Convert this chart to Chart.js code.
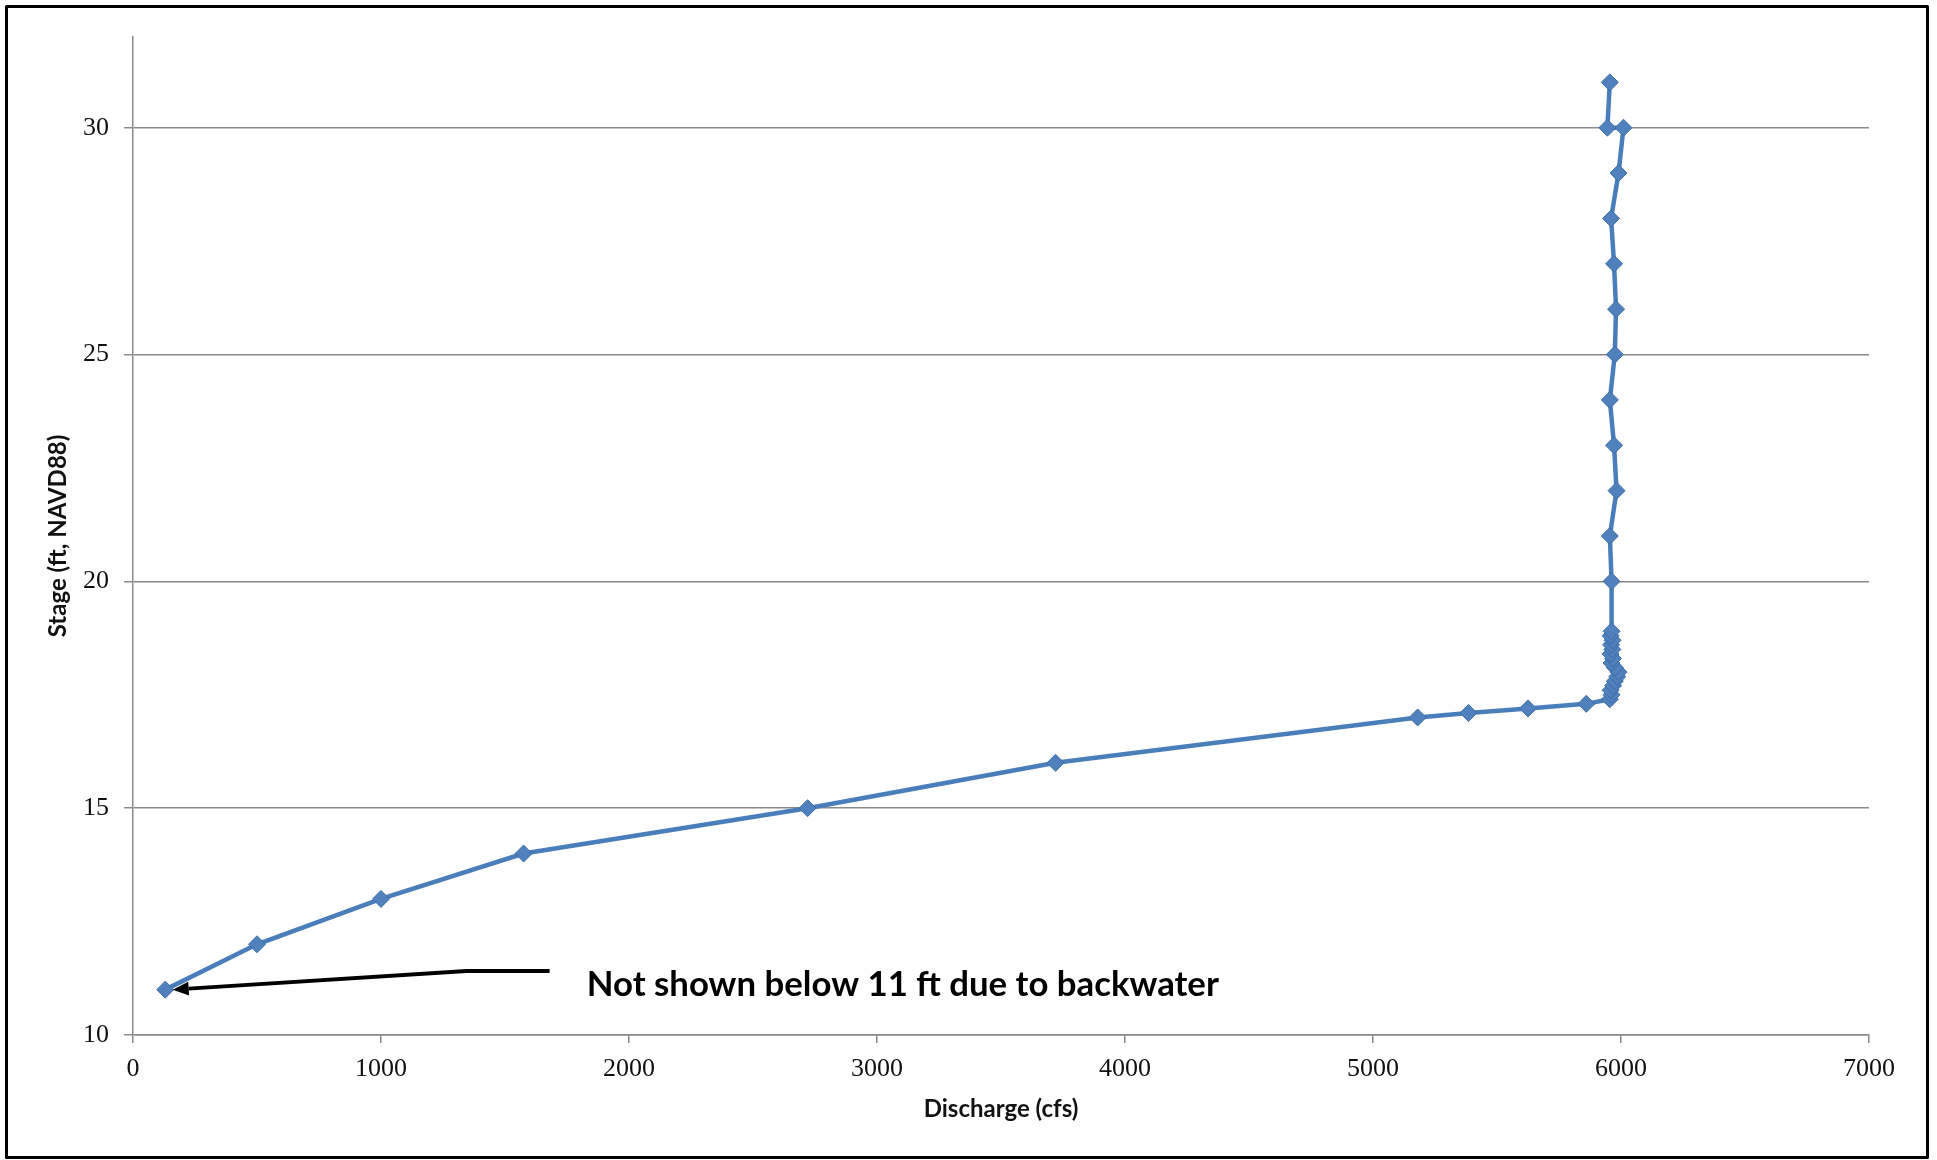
<!DOCTYPE html>
<html>
<head>
<meta charset="utf-8">
<script src="https://cdn.jsdelivr.net/npm/chart.js@4.4.1/dist/chart.umd.min.js"></script>
<style>
  html, body { margin: 0; padding: 0; background: #ffffff; }
  #wrap { width: 1937px; height: 1160px; position: relative; }
</style>
</head>
<body>
<div id="wrap"><canvas id="c" width="1937" height="1160"></canvas></div>
<script>
// Stage-discharge rating (stage in ft NAVD88, discharge in cfs)
const stage = [
  11, 12, 13, 14, 15, 16, 17, 17.1, 17.2, 17.3,
  17.4, 17.5, 17.6, 17.7, 17.8, 17.9, 18.0, 18.1, 18.2, 18.3,
  18.4, 18.5, 18.6, 18.7, 18.8, 18.9,
  20, 21, 22, 23, 24, 25, 26, 27, 28, 29, 30, 30, 31
];
const discharge = [
  130, 500, 1000, 1575, 2720, 3720, 5180, 5385, 5625, 5860,
  5955, 5962, 5958, 5968, 5975, 5985, 5990, 5975, 5962, 5968,
  5958, 5965, 5960, 5966, 5958, 5962,
  5962, 5955, 5982, 5972, 5955, 5975, 5980, 5972, 5960, 5990, 6010, 5945, 5955
];

// Axis ranges and tick spacing
const xRange = [0, 7000];
const xStep = 1000;
const yRange = [10, 32];
const yStep = 5;

// Callout text and its leader (data coordinates)
const noteText = 'Not shown below 11 ft due to backwater';
const noteAnchor = { x: 1830, y: 10.86 };
const leaderStart = { x: 1680, y: 11.41 };
const leaderElbow = { x: 1345, y: 11.41 };
const leaderTip = { x: 160, y: 11.0 };

const points = stage.map((s, i) => ({ x: discharge[i], y: s }));

const gridGray = '#8a8a8a';
const tickFont = { family: '"Liberation Serif", serif', size: 26 };
const titleFont = { family: 'Lato, "Open Sans", sans-serif', weight: 'bold', size: 24 };

const decorations = {
  id: 'decorations',
  afterDraw(chart) {
    const ctx = chart.ctx;
    const xs = chart.scales.x, ys = chart.scales.y;
    const px = p => [xs.getPixelForValue(p.x), ys.getPixelForValue(p.y)];
    ctx.save();

    // leader line with arrowhead
    const a = px(leaderStart), b = px(leaderElbow), t = px(leaderTip);
    ctx.strokeStyle = '#000';
    ctx.lineWidth = 4;
    ctx.lineJoin = 'round';
    ctx.beginPath();
    ctx.moveTo(a[0], a[1]);
    ctx.lineTo(b[0], b[1]);
    const ang = Math.atan2(t[1] - b[1], t[0] - b[0]);
    const headLen = 16, headHalf = 7;
    const baseX = t[0] - Math.cos(ang) * headLen, baseY = t[1] - Math.sin(ang) * headLen;
    ctx.lineTo(baseX, baseY);
    ctx.stroke();
    ctx.fillStyle = '#000';
    ctx.beginPath();
    ctx.moveTo(t[0], t[1]);
    ctx.lineTo(baseX + Math.sin(ang) * headHalf, baseY - Math.cos(ang) * headHalf);
    ctx.lineTo(baseX - Math.sin(ang) * headHalf, baseY + Math.cos(ang) * headHalf);
    ctx.closePath();
    ctx.fill();

    // callout text
    const n = px(noteAnchor);
    ctx.font = 'bold 35px Lato, "Open Sans", sans-serif';
    ctx.textAlign = 'left';
    ctx.textBaseline = 'alphabetic';
    ctx.fillText(noteText, n[0], n[1], 632);

    // outer frame
    ctx.lineWidth = 3;
    ctx.strokeRect(6.5, 6.5, 1921, 1151);
    ctx.restore();
  }
};

new Chart(document.getElementById('c'), {
  type: 'scatter',
  data: {
    datasets: [{
      data: points,
      showLine: true,
      borderColor: '#4A7EBB',
      borderWidth: 4.5,
      tension: 0,
      pointStyle: 'rectRot',
      pointRadius: 8.5,
      pointBackgroundColor: '#4F81BD',
      pointBorderColor: '#3D6DA6',
      pointBorderWidth: 1
    }]
  },
  options: {
    responsive: false,
    animation: false,
    devicePixelRatio: 1,
    layout: { padding: { left: 0, top: 37, right: 68, bottom: 0 } },
    plugins: { legend: { display: false }, tooltip: { enabled: false } },
    scales: {
      x: {
        type: 'linear',
        min: xRange[0], max: xRange[1],
        ticks: {
          stepSize: xStep, includeBounds: false, padding: 11, maxRotation: 0,
          color: '#111', font: tickFont,
          callback: v => String(v)
        },
        grid: { drawOnChartArea: false, drawTicks: true, tickLength: 8, color: gridGray, lineWidth: 1.5 },
        border: { display: true, color: gridGray, width: 1.5 },
        title: {
          display: true, text: 'Discharge (cfs)', color: '#111',
          font: titleFont,
          padding: { top: 0, bottom: 36 }
        },
        afterFit(s) { s.height = 125; }
      },
      y: {
        type: 'linear',
        min: yRange[0], max: yRange[1],
        ticks: {
          stepSize: yStep, includeBounds: false, padding: 15,
          color: '#111', font: tickFont,
          callback: v => String(v)
        },
        grid: { drawOnChartArea: true, drawTicks: true, tickLength: 9, color: gridGray, lineWidth: 1.5 },
        border: { display: true, color: gridGray, width: 1.5 },
        title: {
          display: true, text: 'Stage (ft, NAVD88)', color: '#111',
          font: titleFont,
          padding: { top: 44, bottom: 0 }
        },
        afterFit(s) { s.width = 133; }
      }
    }
  },
  plugins: [decorations]
});
</script>
</body>
</html>
